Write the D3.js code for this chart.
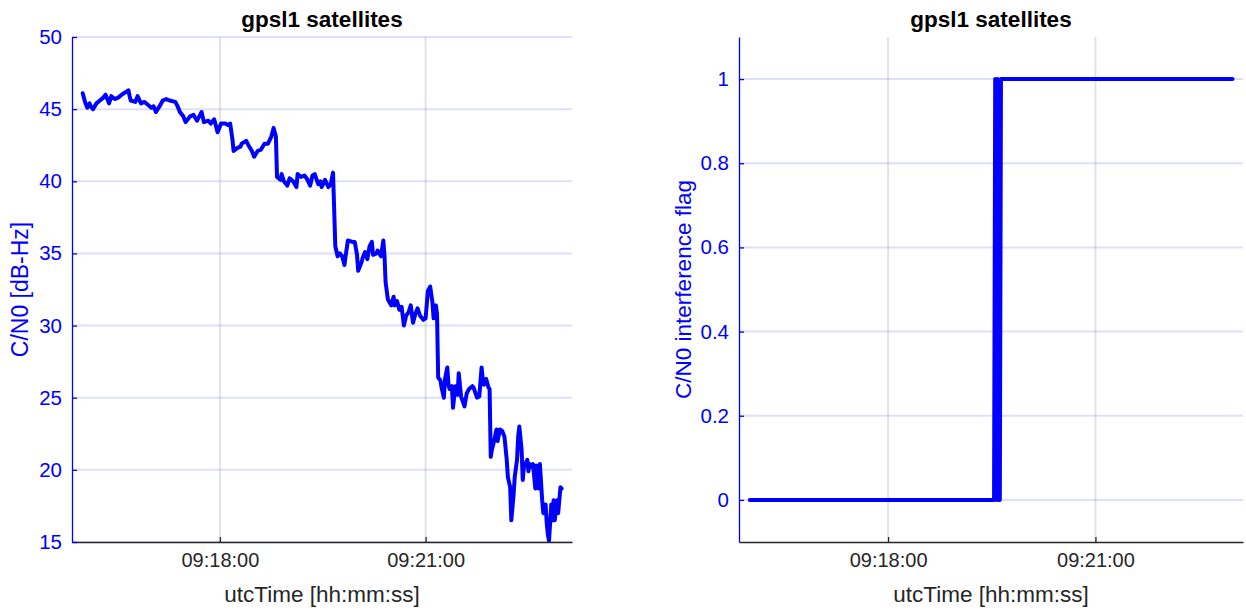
<!DOCTYPE html>
<html>
<head>
<meta charset="utf-8">
<script src="https://cdn.jsdelivr.net/npm/d3@7"></script>
<style>
  body { margin: 0; background: #fff; }
  text { font-family: "Liberation Sans", Arial, Helvetica, sans-serif; }
</style>
</head>
<body>
<svg id="chart" width="1246" height="610"></svg>
<script>
// Recording start (UTC) and sample offsets in seconds from it
const startTime = "09:16:00";

// C/N0 of the tracked gpsl1 satellites [dB-Hz]
const cnoSeconds = [
  0, 2, 4, 6, 7, 9, 12, 15, 18, 20, 23, 25, 28, 31, 34, 36, 40, 41, 42, 46,
  48, 51, 54, 57, 60, 62, 64, 68, 70, 73, 76, 81, 83, 85, 88, 90, 94, 97, 100, 102,
  104, 106, 110, 112, 115, 118, 121, 125, 127, 129, 131, 132, 135, 138, 139, 143, 145, 148, 150, 153,
  156, 159, 162, 165, 167, 169, 170, 173, 174, 176, 179, 181, 184, 187, 188, 191, 194, 196, 199, 201,
  203, 206, 208, 209, 212, 215, 217, 219, 221, 223, 225, 227, 229, 230, 232, 236, 238, 240, 241, 244,
  245, 247, 249, 251, 253, 254, 257, 258, 261, 263, 264, 265, 267, 270, 272, 273, 275, 277, 279, 281,
  283, 285, 287, 289, 291, 293, 295, 298, 300, 302, 304, 306, 307, 309, 310, 311, 313, 314, 316, 317,
  319, 320, 321, 323, 324, 326, 328, 329, 331, 334, 336, 338, 341, 342, 345, 347, 349, 350, 351, 353,
  355, 356, 357, 358, 360, 362, 363, 365, 367, 369, 371, 372, 374, 375, 377, 378, 380, 381, 382, 384,
  385, 386, 389, 390, 391, 393, 394, 396, 397, 399, 400, 402, 403, 405, 406, 407, 408, 410, 411, 412,
  413, 415, 416, 418, 419
];
const cnoValues = [
  46.1, 45.5, 45.1, 45.4, 45.2, 45.0, 45.4, 45.6, 45.8, 46.0, 45.4, 45.9, 45.7, 45.8, 46.0, 46.1, 46.3, 45.9, 45.6, 45.5,
  45.9, 45.4, 45.5, 45.3, 45.1, 45.2, 44.8, 45.3, 45.6, 45.7, 45.6, 45.5, 45.2, 44.8, 44.5, 44.1, 44.5, 44.6, 44.2, 44.5,
  44.8, 44.1, 44.2, 44.0, 44.3, 43.4, 44.0, 44.0, 43.9, 44.0, 42.9, 42.1, 42.3, 42.4, 42.6, 42.8, 42.5, 42.1, 41.7, 42.1,
  42.2, 42.6, 42.6, 43.1, 43.7, 43.1, 40.3, 40.1, 40.5, 40.0, 39.7, 40.2, 40.0, 39.6, 40.5, 40.3, 40.4, 40.2, 39.7, 40.4,
  40.5, 39.8, 40.0, 39.6, 40.1, 39.6, 39.8, 40.6, 35.5, 34.8, 35.0, 34.8, 34.2, 34.8, 35.9, 35.8, 35.8, 34.9, 33.8, 34.4,
  34.7, 35.1, 34.6, 35.5, 35.8, 34.9, 35.0, 35.2, 34.8, 35.9, 34.9, 33.0, 31.8, 31.4, 32.0, 31.4, 31.7, 31.1, 31.3, 30.0,
  30.7, 30.9, 31.4, 30.2, 30.8, 31.2, 30.7, 30.4, 30.5, 32.4, 32.7, 31.6, 30.5, 31.4, 30.8, 26.4, 26.2, 25.7, 25.0, 26.3,
  27.1, 25.9, 25.6, 25.8, 24.3, 25.8, 25.2, 26.7, 25.1, 24.4, 25.3, 25.6, 25.8, 25.7, 25.0, 25.1, 27.1, 26.3, 25.9, 26.3,
  25.7, 25.6, 20.9, 21.4, 22.0, 22.8, 22.0, 22.8, 22.7, 22.3, 20.7, 19.5, 18.8, 16.5, 18.3, 19.5, 20.7, 22.3, 23.0, 21.4,
  19.3, 20.2, 20.7, 19.9, 20.4, 20.2, 20.4, 18.7, 20.3, 18.7, 20.4, 17.9, 17.0, 17.6, 16.3, 15.5, 15.1, 17.6, 16.5, 17.9,
  16.5, 17.9, 17.0, 18.8, 18.7
];

// C/N0 interference flag, stored at its change points
const flagSeconds = [0, 212, 213, 214, 215, 216, 217, 218, 419];
const flagValues  = [0, 0, 1, 0, 1, 0, 0, 1, 1];

// Axis settings
const xLimitSeconds = [-9.4, 428.1];
const xTickLabels = ["09:18:00", "09:21:00"];
const cnoTicks = [15, 20, 25, 30, 35, 40, 45, 50];
const cnoLimits = [15, 50];
const flagTicks = [0, 0.2, 0.4, 0.6, 0.8, 1];
const flagLimits = [-0.1, 1.1];
const titleText = "gpsl1 satellites";
const xLabelText = "utcTime [hh:mm:ss]";

const parseClock = d3.utcParse("%Y-%m-%d %H:%M:%S");
const clock = s => parseClock("2000-01-01 " + s);
const t0 = clock(startTime);
const atOffset = s => new Date(t0.getTime() + s * 1000);
const fmtClock = d3.utcFormat("%H:%M:%S");

const BLUE = "#0000ff";
const DARK = "#262626";
const FONT = '"Liberation Sans", Arial, sans-serif';
const svg = d3.select("#chart");

function drawPanel(cfg) {
  const { left, width, top, bottom } = cfg;
  const g = svg.append("g");

  const x = d3.scaleUtc()
    .domain(xLimitSeconds.map(atOffset))
    .range([left, left + width]);
  const y = d3.scaleLinear().domain(cfg.yLimits).range([bottom, top]);
  const xTicks = xTickLabels.map(clock);

  // grid
  g.append("g").selectAll("line").data(cfg.yTicks).join("line")
    .attr("x1", left).attr("x2", left + width)
    .attr("y1", d => y(d)).attr("y2", d => y(d))
    .attr("stroke", BLUE).attr("stroke-opacity", 0.13).attr("stroke-width", 2);
  g.append("g").selectAll("line").data(xTicks).join("line")
    .attr("x1", d => x(d)).attr("x2", d => x(d))
    .attr("y1", top).attr("y2", bottom)
    .attr("stroke", DARK).attr("stroke-opacity", 0.13).attr("stroke-width", 2);

  // series
  const pts = cfg.seconds.map((s, i) => [atOffset(s), cfg.values[i]]);
  g.append("path")
    .datum(pts)
    .attr("fill", "none")
    .attr("stroke", BLUE)
    .attr("stroke-width", 4)
    .attr("stroke-linejoin", "round")
    .attr("stroke-linecap", "round")
    .attr("d", d3.line().x(d => x(d[0])).y(d => y(d[1])));

  // x axis
  const xa = g.append("g")
    .attr("transform", `translate(0,${bottom})`)
    .call(d3.axisBottom(x).tickValues(xTicks).tickFormat(fmtClock)
      .tickSizeInner(-5).tickSizeOuter(0).tickPadding(11));
  xa.select(".domain").attr("stroke", DARK).attr("stroke-width", 1.3);
  xa.selectAll(".tick line").attr("stroke", DARK).attr("stroke-width", 1.3);
  xa.selectAll(".tick text").attr("fill", DARK).style("font-size", "20px").style("font-family", FONT);

  // y axis
  const ya = g.append("g")
    .attr("transform", `translate(${left},0)`)
    .call(d3.axisLeft(y).tickValues(cfg.yTicks).tickFormat(d3.format("~g"))
      .tickSizeInner(-5).tickSizeOuter(0).tickPadding(10));
  ya.select(".domain").attr("stroke", BLUE).attr("stroke-width", 1.3);
  ya.selectAll(".tick line").attr("stroke", BLUE).attr("stroke-width", 1.3);
  ya.selectAll(".tick text").attr("fill", BLUE).style("font-size", "20.5px").style("font-family", FONT);

  // labels
  g.append("text")
    .attr("x", left + width / 2).attr("y", 27)
    .attr("text-anchor", "middle")
    .attr("font-weight", "bold").attr("font-size", 22.5).attr("fill", "#000")
    .text(titleText);
  g.append("text")
    .attr("x", left + width / 2).attr("y", 602)
    .attr("text-anchor", "middle")
    .attr("font-size", 22.5).attr("fill", DARK)
    .text(xLabelText);
  g.append("text")
    .attr("transform", `translate(${cfg.yLabelX},${(top + bottom) / 2}) rotate(-90)`)
    .attr("text-anchor", "middle")
    .attr("font-size", cfg.yLabelSize).attr("fill", BLUE)
    .text(cfg.yLabel);
}

drawPanel({
  left: 72, width: 500, top: 37, bottom: 542,
  yLimits: cnoLimits, yTicks: cnoTicks,
  seconds: cnoSeconds, values: cnoValues,
  yLabel: "C/N0 [dB-Hz]", yLabelX: 28, yLabelSize: 23
});

drawPanel({
  left: 739, width: 504, top: 37, bottom: 542,
  yLimits: flagLimits, yTicks: flagTicks,
  seconds: flagSeconds, values: flagValues,
  yLabel: "C/N0 interference flag", yLabelX: 691, yLabelSize: 22.5
});
</script>
</body>
</html>
